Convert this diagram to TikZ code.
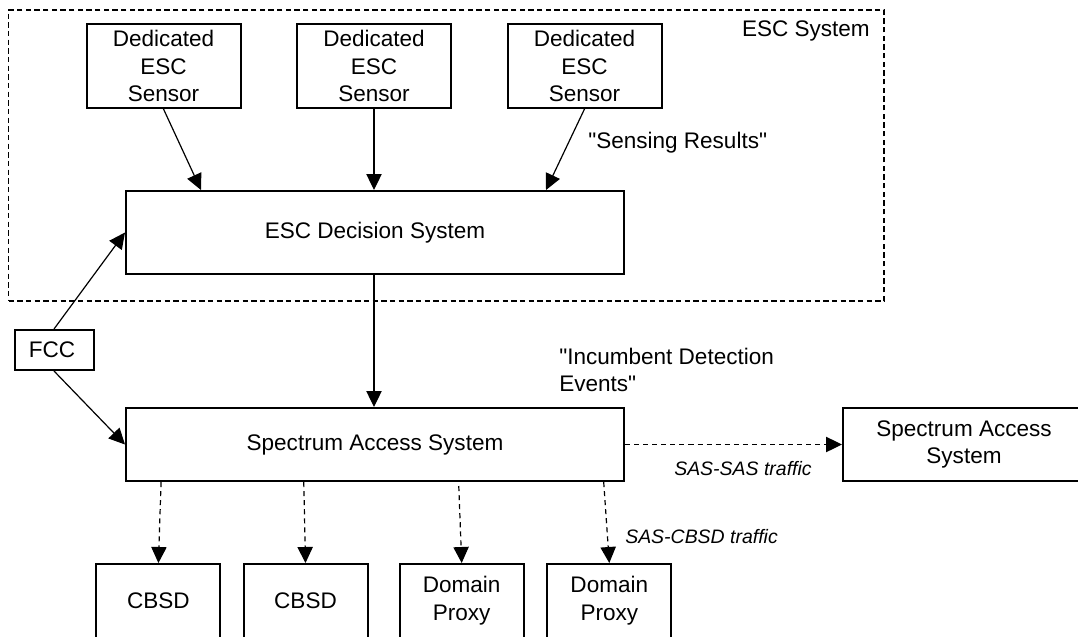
\documentclass[tikz,border=0pt]{standalone}
\usepackage{fontspec}
\setmainfont{Liberation Sans}[Ligatures=TeXOff]
\usetikzlibrary{arrows.meta,calc}
\begin{document}
\begin{tikzpicture}[x=0.75pt,y=-0.75pt,
  box/.style={draw,line width=1.5pt,inner sep=0pt,align=center,
    font=\fontsize{16.9}{20.8}\selectfont},
  lbl/.style={inner sep=0pt,font=\fontsize{16.9}{20.8}\selectfont},
  ilbl/.style={inner sep=0pt,font=\itshape\fontsize{14.6}{18}\selectfont},
  arr/.style={line width=0.9pt,-{Triangle[length=12pt,width=11.5pt]}},
  dasharr/.style={arr,dash pattern=on 3.8pt off 3pt}]
\useasboundingbox (0,0) rectangle (1078,636);
\fill[white] (0,0) rectangle (1078,636);
\clip (0,0) rectangle (1078,636);
% ESC system frame
\node[draw,line width=1pt,dash pattern=on 4pt off 2.5pt,inner sep=0pt,
  minimum width=656.55pt,minimum height=218.25pt] (frame) at (446.3,155.5) {};
\node[lbl,anchor=east] (escsys) at (870,31) {ESC System};
% sensors
\node[box,minimum width=115.5pt,minimum height=63pt] (s1) at (163.5,66) {Dedicated\\ESC\\Sensor};
\node[box,minimum width=115.5pt,minimum height=63pt] (s2) at (374,66) {Dedicated\\ESC\\Sensor};
\node[box,minimum width=115.5pt,minimum height=63pt] (s3) at (584.5,66) {Dedicated\\ESC\\Sensor};
\node[lbl,anchor=west] (sens) at (588,143) {"Sensing Results"};
% decision system
\node[box,minimum width=373.5pt,minimum height=62.25pt] (dec) at (375,232.5) {ESC Decision System};
% FCC
\node[box,minimum width=59.25pt,minimum height=30pt] (fcc) at (54,350) {FCC\hspace*{3pt}};
% SAS
\node[box,minimum width=373.5pt,minimum height=54.75pt] (sas) at (375,444.5) {Spectrum Access System};
\node[box,minimum width=181.5pt,minimum height=54.75pt] (sas2) at (964,444.5) {Spectrum Access\\System};
\node[lbl,anchor=west,align=left] (ide) at (559,370) {"Incumbent Detection\\Events"};
\node[ilbl,anchor=west] (sastr) at (674,469) {SAS-SAS traffic};
\node[ilbl,anchor=west] (cbsdtr) at (625,537) {SAS-CBSD traffic};
% bottom devices
\node[box,minimum width=93pt,minimum height=55.5pt] (c1) at (158.4,601) {CBSD};
\node[box,minimum width=93pt,minimum height=55.5pt] (c2) at (305.5,601) {CBSD};
\node[box,minimum width=93pt,minimum height=55.5pt] (d1) at (461.7,601) {Domain\\Proxy};
\node[box,minimum width=93pt,minimum height=55.5pt] (d2) at (609.3,601) {Domain\\Proxy};
% connectors
\draw[arr] (s1.south) -- ([xshift=-130.5pt]dec.north);
\draw[arr] (s2.south) -- (s2.south |- dec.north);
\draw[arr] (s3.south) -- ([xshift=128.25pt]dec.north);
\draw[arr] (dec.south -| s2.south) -- (s2.south |- sas.north);
\draw[arr] (fcc.north) -- (dec.west);
\draw[arr] (fcc.south) -- (sas.west);
\draw[dasharr] (sas.east) -- (sas2.west);
\draw[dasharr] ($(sas.south -| c1.north)+(2pt,0)$) -- (c1.north);
\draw[dasharr] ($(sas.south -| c2.north)+(-1.3pt,0)$) -- (c2.north);
\draw[dasharr] ($(sas.south -| d1.north)+(-2.2pt,-3pt)$) -- (d1.north);
\draw[dasharr] ($(sas.south -| d2.north)+(-4.2pt,0)$) -- (d2.north);
\end{tikzpicture}
\end{document}
